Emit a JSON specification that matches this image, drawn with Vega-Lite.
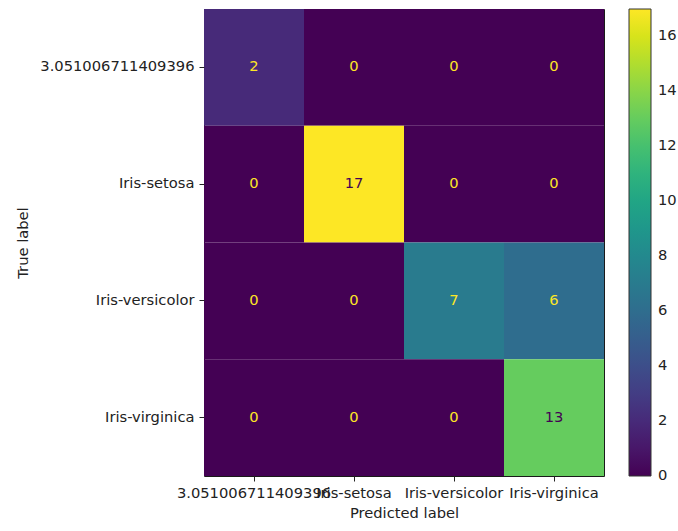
{
  "$schema": "https://vega.github.io/schema/vega-lite/v6.json",
  "width": 400,
  "height": 467,
  "autosize": {"type": "none"},
  "padding": {"left": 204, "top": 9, "right": 74, "bottom": 55},
  "background": "white",
  "config": {
    "font": "DejaVu Sans",
    "view": {"stroke": "#1a1a1a", "strokeWidth": 1}
  },
  "data": {
    "values": [
      {"true": "3.051006711409396", "pred": "3.051006711409396", "count": 2},
      {"true": "3.051006711409396", "pred": "Iris-setosa", "count": 0},
      {"true": "3.051006711409396", "pred": "Iris-versicolor", "count": 0},
      {"true": "3.051006711409396", "pred": "Iris-virginica", "count": 0},
      {"true": "Iris-setosa", "pred": "3.051006711409396", "count": 0},
      {"true": "Iris-setosa", "pred": "Iris-setosa", "count": 17},
      {"true": "Iris-setosa", "pred": "Iris-versicolor", "count": 0},
      {"true": "Iris-setosa", "pred": "Iris-virginica", "count": 0},
      {"true": "Iris-versicolor", "pred": "3.051006711409396", "count": 0},
      {"true": "Iris-versicolor", "pred": "Iris-setosa", "count": 0},
      {"true": "Iris-versicolor", "pred": "Iris-versicolor", "count": 7},
      {"true": "Iris-versicolor", "pred": "Iris-virginica", "count": 6},
      {"true": "Iris-virginica", "pred": "3.051006711409396", "count": 0},
      {"true": "Iris-virginica", "pred": "Iris-setosa", "count": 0},
      {"true": "Iris-virginica", "pred": "Iris-versicolor", "count": 0},
      {"true": "Iris-virginica", "pred": "Iris-virginica", "count": 13}
    ]
  },
  "encoding": {
    "x": {
      "field": "pred",
      "type": "nominal",
      "sort": ["3.051006711409396", "Iris-setosa", "Iris-versicolor", "Iris-virginica"],
      "scale": {"paddingInner": 0, "paddingOuter": 0},
      "axis": {
        "title": "Predicted label",
        "labelAngle": 0,
        "labelOverlap": false,
        "labelBound": false,
        "labelFlush": false,
        "labelFont": "DejaVu Sans",
        "labelFontSize": 14.7,
        "labelColor": "#222222",
        "labelPadding": 4,
        "tickSize": 5,
        "tickColor": "#222222",
        "domain": false,
        "titleFont": "DejaVu Sans",
        "titleFontSize": 14.7,
        "titleFontWeight": "normal",
        "titleColor": "#222222",
        "titlePadding": 6
      }
    },
    "y": {
      "field": "true",
      "type": "nominal",
      "sort": ["3.051006711409396", "Iris-setosa", "Iris-versicolor", "Iris-virginica"],
      "scale": {"paddingInner": 0, "paddingOuter": 0},
      "axis": {
        "title": "True label",
        "labelOverlap": false,
        "labelBound": false,
        "labelFont": "DejaVu Sans",
        "labelFontSize": 14.7,
        "labelColor": "#222222",
        "labelPadding": 5,
        "tickSize": 5,
        "tickColor": "#222222",
        "domain": false,
        "titleFont": "DejaVu Sans",
        "titleFontSize": 14.7,
        "titleFontWeight": "normal",
        "titleColor": "#222222",
        "titlePadding": 9
      }
    }
  },
  "layer": [
    {
      "mark": {"type": "rect"},
      "encoding": {
        "color": {
          "field": "count",
          "type": "quantitative",
          "scale": {"scheme": "viridis", "domain": [-0.001, 17], "nice": false},
          "legend": {
            "title": null,
            "orient": "right",
            "offset": 25,
            "padding": 0,
            "gradientLength": 467,
            "gradientThickness": 22,
            "gradientStrokeColor": "#333333",
            "gradientStrokeWidth": 1,
            "values": [0, 2, 4, 6, 8, 10, 12, 14, 16],
            "labelFont": "DejaVu Sans",
            "labelFontSize": 14.7,
            "labelColor": "#222222",
            "labelOffset": 7,
            "labelOverlap": false
          }
        }
      }
    },
    {
      "mark": {"type": "text", "font": "DejaVu Sans", "fontSize": 14.7, "baseline": "middle"},
      "encoding": {
        "text": {"field": "count", "type": "quantitative"},
        "color": {
          "condition": {"test": "datum.count < 8.5", "value": "#fde725"},
          "value": "#440154"
        }
      }
    }
  ]
}
